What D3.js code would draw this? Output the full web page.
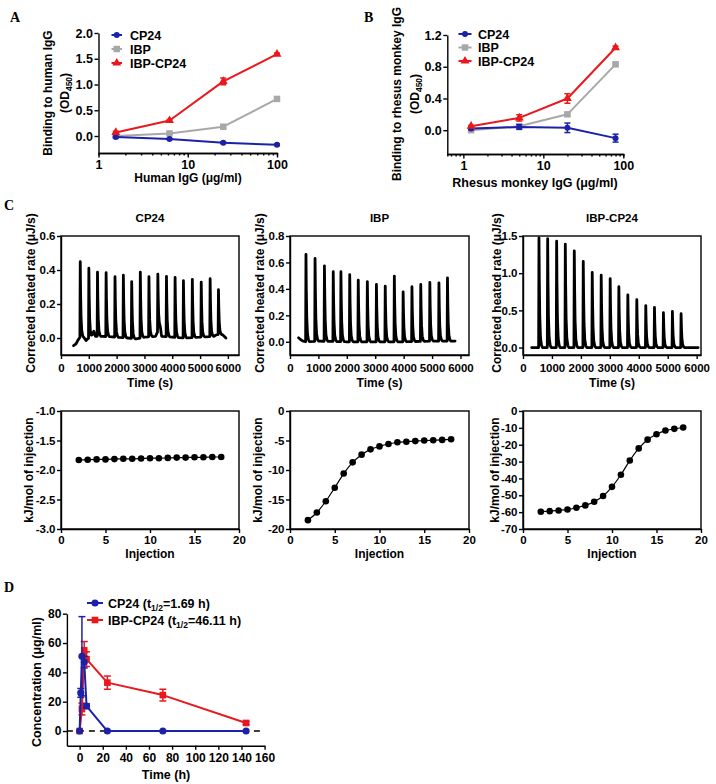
<!DOCTYPE html>
<html><head><meta charset="utf-8">
<script src="https://cdn.jsdelivr.net/npm/d3@7"></script>
<style>
body{margin:0;background:#fff;}
svg{display:block;font-family:"Liberation Sans",Arial,sans-serif;font-weight:bold;}
</style></head><body>
<script>
// ---------------- DATA ----------------
// Panel A: binding to human IgG
const aConc = [1.5625, 6.25, 25, 100];
const aCP24 = [-0.02, -0.06, -0.13, -0.17];
const aErrCP24 = [0.01, 0.01, 0.015, 0.015];
const aIBP = [0.00, 0.05, 0.18, 0.72];
const aErrIBP = [0.01, 0.01, 0.03, 0.02];
const aIBPCP24 = [0.07, 0.30, 1.06, 1.59];
const aErrIBPCP24 = [0.02, 0.02, 0.065, 0.02];
const aXTicks = [1, 10, 100];
const aYTicks = [0, 0.5, 1.0, 1.5, 2.0];
// Panel B: binding to rhesus monkey IgG
const bConc = [1.25, 5, 20, 80];
const bCP24 = [0.02, 0.04, 0.03, -0.10];
const bErrCP24 = [0.015, 0.03, 0.06, 0.05];
const bIBP = [0.00, 0.05, 0.20, 0.83];
const bErrIBP = [0.01, 0.01, 0.02, 0.02];
const bIBPCP24 = [0.05, 0.155, 0.40, 1.04];
const bErrIBPCP24 = [0.01, 0.04, 0.06, 0.02];
const bXTicks = [1, 10, 100];
const bYTicks = [0, 0.4, 0.8, 1.2];
const seriesNames = ["CP24", "IBP", "IBP-CP24"];
// Panel C top: ITC thermograms (injection time s, peak top µJ/s)
const c1PeakTime = [690,1000,1310,1620,1940,2240,2540,2850,3160,3480,3790,4100,4400,4720,5040,5360,5660];
const c1PeakHeight = [0.449,0.410,0.388,0.384,0.361,0.369,0.331,0.388,0.361,0.375,0.363,0.357,0.337,0.345,0.329,0.349,0.284];
const c1Baseline = [[450,-0.045],[540,-0.035],[620,-0.01],[680,0.005],[820,0.005],[900,-0.015],[960,-0.005],[1100,0.01],[1180,0.04],[1240,0.01],[1500,0.01],[2000,0.005],[2400,0.0],[2700,-0.005],[3000,0.005],[3400,0.01],[3560,0.07],[3620,0.01],[4000,0.005],[4500,0.0],[5000,0.005],[5500,0.01],[5600,0.02],[5800,0.02],[5930,0.0]];
const c2PeakTime = [560,880,1210,1520,1790,2100,2400,2720,3040,3350,3670,3980,4290,4600,4920,5240,5540];
const c2PeakHeight = [0.661,0.630,0.573,0.530,0.530,0.507,0.467,0.454,0.434,0.421,0.497,0.378,0.416,0.434,0.449,0.446,0.484];
const c2Baseline = [[300,0.03],[380,0.015],[460,0.005],[560,0.0],[1000,0.005],[2000,0.0],[3000,0.0],[4000,0.0],[5000,0.005],[5810,0.005]];
const c3PeakTime = [550,850,1160,1460,1770,2080,2390,2700,3010,3310,3620,3930,4240,4540,4850,5160,5460];
const c3PeakHeight = [1.473,1.464,1.432,1.390,1.300,1.160,1.010,0.973,0.927,0.818,0.709,0.645,0.564,0.541,0.468,0.486,0.455];
const c3Baseline = [[300,0.0],[6050,0.0]];
const cTimeTicks = [0,1000,2000,3000,4000,5000,6000];
const c1RateTicks = [0, 0.2, 0.4, 0.6];
const c2RateTicks = [0, 0.2, 0.4, 0.6, 0.8];
const c3RateTicks = [0, 0.5, 1.0, 1.5];
// Panel C bottom: integrated heats
const injection = [2,3,4,5,6,7,8,9,10,11,12,13,14,15,16,17,18];
const c1Heat = [-1.83,-1.825,-1.82,-1.82,-1.815,-1.81,-1.81,-1.805,-1.80,-1.80,-1.795,-1.79,-1.79,-1.785,-1.785,-1.78,-1.78];
const c2Heat = [-18.5,-17.2,-15.3,-13.0,-10.6,-8.7,-7.4,-6.5,-6.0,-5.6,-5.3,-5.2,-5.1,-5.0,-4.95,-4.9,-4.8];
const c3Heat = [-59.8,-59.4,-59.0,-58.4,-57.4,-56.0,-53.8,-50.4,-45.0,-37.8,-29.4,-22.2,-17.0,-13.8,-11.6,-10.6,-9.8];
const injTicks = [0,5,10,15,20];
const c1HeatTicks = [-1.0,-1.5,-2.0,-2.5,-3.0];
const c2HeatTicks = [0,-5,-10,-15,-20];
const c3HeatTicks = [0,-10,-20,-30,-40,-50,-60,-70];
// Panel D: pharmacokinetics
const dTimeCP24 = [0, 1, 2, 4, 6, 24, 72, 144];
const dCP24 = [0, 26, 51, 47, 17, 0, 0, 0];
const dErrCP24 = [0, 3, 27, 4, 1.5, 0, 0, 0];
const dTimeIBPCP24 = [0, 2, 4, 6, 24, 72, 144];
const dIBPCP24 = [0, 15, 55, 49, 33, 24.5, 5.5];
const dErrIBPCP24 = [0, 4, 6, 5, 4.5, 4, 1];
const dXTicks = [0,20,40,60,80,100,120,140,160];
const dYTicks = [0,20,40,60,80];

// ---------------- DRAWING ----------------
const BLUE = "#1c22a8", GRAY = "#a8a8a8", RED = "#e8181c";
const FONT = "Liberation Sans, Arial, sans-serif";
const svg = d3.select("body").append("svg").attr("width", 716).attr("height", 784);

function fmtMinus(s){ return String(s).replace("\u2212","-"); }
function styleAxis(g, fs){
  g.attr("font-family", FONT).attr("font-size", fs).attr("font-weight", "bold");
  g.selectAll(".domain").attr("stroke", "#000").attr("stroke-width", 1.4);
  g.selectAll(".tick line").attr("stroke", "#000").attr("stroke-width", 1.4);
  g.selectAll(".tick text").attr("fill", "#000");
}
function text(x, y, s, fs, anchor, opts){
  const t = svg.append("text").attr("x", x).attr("y", y).attr("font-size", fs)
    .attr("text-anchor", anchor || "middle").attr("font-weight", "bold").attr("fill", "#000").text(s);
  if (opts && opts.serif) t.attr("font-family", "Liberation Serif, Times New Roman, serif");
  return t;
}
function vtext(xm, yc, fs){ // rotated label, xm = horizontal middle of glyphs
  return svg.append("text").attr("transform", `translate(${xm + fs*0.36},${yc}) rotate(-90)`)
    .attr("font-size", fs).attr("text-anchor", "middle").attr("font-weight", "bold").attr("fill", "#000");
}
function sym(type, size){ return d3.symbol().type(type).size(size)(); }
function drawSeries(g, xs, ys, errs, xS, yS, color, type, size, lw, capW){
  g.append("path").datum(ys)
    .attr("d", d3.line().x((d,i)=>xS(xs[i])).y(d=>yS(d)))
    .attr("fill","none").attr("stroke",color).attr("stroke-width",lw).attr("stroke-linejoin","round");
  if (errs) ys.forEach((v,i)=>{
    if (!errs[i]) return;
    const X = xS(xs[i]), y1 = yS(v+errs[i]), y2 = yS(v-errs[i]);
    g.append("line").attr("x1",X).attr("x2",X).attr("y1",y1).attr("y2",y2).attr("stroke",color).attr("stroke-width",1.5);
    [y1,y2].forEach(yy=>g.append("line").attr("x1",X-capW).attr("x2",X+capW).attr("y1",yy).attr("y2",yy).attr("stroke",color).attr("stroke-width",1.5));
  });
  ys.forEach((v,i)=>g.append("path").attr("d",sym(type,size)).attr("transform",`translate(${xS(xs[i])},${yS(v)})`).attr("fill",color));
}
function legendRow(x0, x1, ym, color, type, size, label, fs, tx){
  svg.append("line").attr("x1",x0).attr("x2",x1).attr("y1",ym).attr("y2",ym).attr("stroke",color).attr("stroke-width",2);
  svg.append("path").attr("d",sym(type,size)).attr("transform",`translate(${(x0+x1)/2},${ym})`).attr("fill",color);
  return text(tx, ym + fs*0.36, label, fs, "start");
}

// Panel letters
text(10, 22, "A", 14, "start", {serif:true});
text(364, 22, "B", 14, "start", {serif:true});
text(4, 210, "C", 14, "start", {serif:true});
text(4, 592, "D", 14, "start", {serif:true});

// ----- Panel A -----
{
  const x = d3.scaleLog().domain([1,100]).range([98.5,277]);
  const y = d3.scaleLinear().domain([-0.33,2.0]).range([153,33]);
  const g = svg.append("g");
  const minor = [2,3,4,5,6,7,8,9,20,30,40,50,60,70,80,90];
  const gm = g.append("g").attr("transform","translate(0,153)").call(d3.axisBottom(x).tickValues(minor).tickSize(2.5).tickFormat(""));
  styleAxis(gm, 12.5);
  const gx = g.append("g").attr("transform","translate(0,153)").call(d3.axisBottom(x).tickValues(aXTicks).tickSize(4.5).tickSizeOuter(0).tickPadding(3).tickFormat(d3.format("d")));
  styleAxis(gx, 12.5);
  const gy = g.append("g").attr("transform","translate(98.5,0)").call(d3.axisLeft(y).tickValues(aYTicks).tickSize(4).tickSizeOuter(0).tickPadding(1.5).tickFormat(d=>d.toFixed(1)));
  styleAxis(gy, 12.5);
  drawSeries(g, aConc, aIBP, aErrIBP, x, y, GRAY, d3.symbolSquare, 42, 2, 3);
  drawSeries(g, aConc, aCP24, aErrCP24, x, y, BLUE, d3.symbolCircle, 28, 2, 3);
  drawSeries(g, aConc, aIBPCP24, aErrIBPCP24, x, y, RED, d3.symbolTriangle, 34, 2, 3);
  legendRow(111.5, 122, 35, BLUE, d3.symbolCircle, 28, seriesNames[0], 12.5, 130);
  legendRow(111.5, 122, 49, GRAY, d3.symbolSquare, 42, seriesNames[1], 12.5, 130);
  legendRow(111.5, 122, 63, RED, d3.symbolTriangle, 34, seriesNames[2], 12.5, 130);
  text(188, 182, "Human IgG (\u03BCg/ml)", 12, "middle");
  vtext(48, 93, 12).text("Binding to human IgG");
  const t2 = vtext(65, 93, 12);
  t2.append("tspan").text("(OD");
  t2.append("tspan").attr("font-size", 8.5).attr("dy", 3).text("450");
  t2.append("tspan").attr("dy", -3).text(")");
}

// ----- Panel B -----
{
  const x = d3.scaleLog().domain([0.63,100]).range([447.3,623.3]);
  const y = d3.scaleLinear().domain([-0.3,1.2]).range([154,35]);
  const g = svg.append("g");
  const minor = [0.7,0.8,0.9,2,3,4,5,6,7,8,9,20,30,40,50,60,70,80,90];
  const gm = g.append("g").attr("transform","translate(0,154)").call(d3.axisBottom(x).tickValues(minor).tickSize(2.5).tickFormat(""));
  styleAxis(gm, 12.5);
  const gx = g.append("g").attr("transform","translate(0,154)").call(d3.axisBottom(x).tickValues(bXTicks).tickSize(4.5).tickSizeOuter(0).tickPadding(3).tickFormat(d3.format("d")));
  styleAxis(gx, 12.5);
  const gy = g.append("g").attr("transform","translate(447.3,0)").call(d3.axisLeft(y).tickValues(bYTicks).tickSize(4).tickSizeOuter(0).tickPadding(1.5).tickFormat(d=>d.toFixed(1)));
  styleAxis(gy, 12.5);
  drawSeries(g, bConc, bIBP, bErrIBP, x, y, GRAY, d3.symbolSquare, 42, 2, 3);
  drawSeries(g, bConc, bCP24, bErrCP24, x, y, BLUE, d3.symbolCircle, 28, 2, 3);
  drawSeries(g, bConc, bIBPCP24, bErrIBPCP24, x, y, RED, d3.symbolTriangle, 34, 2, 3);
  legendRow(458.5, 471.5, 34, BLUE, d3.symbolCircle, 28, seriesNames[0], 12.5, 478);
  legendRow(458.5, 471.5, 47.5, GRAY, d3.symbolSquare, 42, seriesNames[1], 12.5, 478);
  legendRow(458.5, 471.5, 61, RED, d3.symbolTriangle, 34, seriesNames[2], 12.5, 478);
  text(535, 187, "Rhesus monkey IgG (\u03BCg/ml)", 12.5, "middle");
  vtext(397, 94, 12).text("Binding to rhesus monkey IgG");
  const t2 = vtext(415, 94, 12);
  t2.append("tspan").text("(OD");
  t2.append("tspan").attr("font-size", 8.5).attr("dy", 3).text("450");
  t2.append("tspan").attr("dy", -3).text(")");
}

// ----- Panel C -----
const cCols = [
  {x0:61, x1:239, tmax:6400, title:"CP24", peaksT:c1PeakTime, peaksH:c1PeakHeight, base:c1Baseline, rate:[-0.1,0.6], rTicks:c1RateTicks, rFmt:d=>d.toFixed(1), heat:c1Heat, hDom:[-3,-1], hTicks:c1HeatTicks, hFmt:d=>fmtMinus(d.toFixed(1)), yl:31},
  {x0:290, x1:469, tmax:6300, title:"IBP", peaksT:c2PeakTime, peaksH:c2PeakHeight, base:c2Baseline, rate:[-0.1,0.8], rTicks:c2RateTicks, rFmt:d=>d.toFixed(1), heat:c2Heat, hDom:[-20,0], hTicks:c2HeatTicks, hFmt:d=>fmtMinus(d3.format("d")(d)), yl:260},
  {x0:523, x1:701, tmax:6150, title:"IBP-CP24", peaksT:c3PeakTime, peaksH:c3PeakHeight, base:c3Baseline, rate:[-0.1,1.5], rTicks:c3RateTicks, rFmt:d=>d.toFixed(1), heat:c3Heat, hDom:[-70,0], hTicks:c3HeatTicks, hFmt:d=>fmtMinus(d3.format("d")(d)), yl:497}
];
const TOP0 = 236, TOP1 = 355, BOT0 = 411, BOT1 = 529;
// spike glyph: offsets in s and fraction of peak amplitude
const spikeShape = [[-10,0],[2,1],[14,0.6],[30,0.28],[55,0.09],[90,0.02],[125,0]];
cCols.forEach(c=>{
  // top thermogram
  const x = d3.scaleLinear().domain([0,c.tmax]).range([c.x0,c.x1]);
  const y = d3.scaleLinear().domain(c.rate).range([TOP1,TOP0]);
  const g = svg.append("g");
  g.append("rect").attr("x",c.x0).attr("y",TOP0).attr("width",c.x1-c.x0).attr("height",TOP1-TOP0).attr("fill","none").attr("stroke","#000").attr("stroke-width",1.4);
  const gx = g.append("g").attr("transform",`translate(0,${TOP1})`).call(d3.axisBottom(x).tickValues(cTimeTicks).tickSize(4).tickSizeOuter(0).tickPadding(4.5).tickFormat(d3.format("d")));
  styleAxis(gx, 11.5);
  const gy = g.append("g").attr("transform",`translate(${c.x0},0)`).call(d3.axisLeft(y).tickValues(c.rTicks).tickSize(4).tickSizeOuter(0).tickPadding(1.5).tickFormat(c.rFmt));
  styleAxis(gy, 11.5);
  const bAt = d3.scaleLinear().domain(c.base.map(d=>d[0])).range(c.base.map(d=>d[1])).clamp(true);
  let pts = c.base.filter(b=>!c.peaksT.some(t=>b[0]>=t-10 && b[0]<=t+125)).map(b=>[b[0],b[1]]);
  c.peaksT.forEach((t,i)=>{
    const amp = c.peaksH[i] - bAt(t);
    spikeShape.forEach(s=>{ const tt=t+s[0]; pts.push([tt, bAt(tt) + s[1]*amp]); });
  });
  pts.sort((a,b)=>a[0]-b[0]);
  g.append("path").datum(pts).attr("d", d3.line().x(d=>x(d[0])).y(d=>y(d[1])))
    .attr("fill","none").attr("stroke","#000").attr("stroke-width",2.8).attr("stroke-linejoin","round").attr("stroke-linecap","round");
  text((c.x0+c.x1)/2, 222, c.title, 11.5, "middle");
  text((c.x0+c.x1)/2, 387, "Time (s)", 12, "middle");
  vtext(c.yl, 293, 12).text("Corrected heated rate (\u03BCJ/s)");

  // bottom integrated heats
  const xb = d3.scaleLinear().domain([0,20]).range([c.x0,c.x1]);
  const yb = d3.scaleLinear().domain(c.hDom).range([BOT1,BOT0]);
  const gb = svg.append("g");
  gb.append("rect").attr("x",c.x0).attr("y",BOT0).attr("width",c.x1-c.x0).attr("height",BOT1-BOT0).attr("fill","none").attr("stroke","#000").attr("stroke-width",1.4);
  const gbx = gb.append("g").attr("transform",`translate(0,${BOT1})`).call(d3.axisBottom(xb).tickValues(injTicks).tickSize(4).tickSizeOuter(0).tickPadding(3).tickFormat(d3.format("d")));
  styleAxis(gbx, 11.5);
  const gby = gb.append("g").attr("transform",`translate(${c.x0},0)`).call(d3.axisLeft(yb).tickValues(c.hTicks).tickSize(4).tickSizeOuter(0).tickPadding(1.5).tickFormat(c.hFmt));
  styleAxis(gby, 11.5);
  gb.append("path").datum(c.heat).attr("d", d3.line().x((d,i)=>xb(injection[i])).y(d=>yb(d)).curve(d3.curveMonotoneX))
    .attr("fill","none").attr("stroke","#000").attr("stroke-width",1.2);
  c.heat.forEach((v,i)=>gb.append("circle").attr("cx",xb(injection[i])).attr("cy",yb(v)).attr("r",3.3).attr("fill","#000"));
  text((c.x0+c.x1)/2, 558, "Injection", 12, "middle");
  vtext(c.yl - 2, 470, 12).text("kJ/mol of injection");
});

// ----- Panel D -----
{
  const x = d3.scaleLinear().domain([-11,160]).range([66.9,264.6]);
  const y = d3.scaleLinear().domain([-10,80]).range([745.7,613.7]);
  const g = svg.append("g");
  const gx = g.append("g").attr("transform","translate(0,745.7)").call(d3.axisBottom(x).tickValues(dXTicks).tickSize(4).tickSizeOuter(0).tickPadding(4).tickFormat(d3.format("d")));
  styleAxis(gx, 12);
  const gy = g.append("g").attr("transform","translate(66.9,0)").call(d3.axisLeft(y).tickValues(dYTicks).tickSize(4).tickSizeOuter(0).tickPadding(1.5).tickFormat(d3.format("d")));
  styleAxis(gy, 12);
  g.append("line").attr("x1",x(-11)).attr("x2",x(160)).attr("y1",y(0)).attr("y2",y(0))
    .attr("stroke","#000").attr("stroke-width",1.6).attr("stroke-dasharray","6,5");
  drawSeries(g, dTimeIBPCP24, dIBPCP24, dErrIBPCP24, x, y, RED, d3.symbolSquare, 44, 2, 3.5);
  drawSeries(g, dTimeCP24, dCP24, dErrCP24, x, y, BLUE, d3.symbolCircle, 40, 2, 3.5);
  const l1 = legendRow(87, 103, 603, BLUE, d3.symbolCircle, 40, "", 12.5, 108);
  l1.text(null);
  l1.append("tspan").text("CP24 (t");
  l1.append("tspan").attr("font-size", 8.5).attr("dy", 3).text("1/2");
  l1.append("tspan").attr("dy", -3).text("=1.69 h)");
  const l2 = legendRow(87, 103, 620, RED, d3.symbolSquare, 44, "", 12.5, 108);
  l2.text(null);
  l2.append("tspan").text("IBP-CP24 (t");
  l2.append("tspan").attr("font-size", 8.5).attr("dy", 3).text("1/2");
  l2.append("tspan").attr("dy", -3).text("=46.11 h)");
  text(166, 779, "Time (h)", 12.5, "middle");
  vtext(36, 682, 12.5).text("Concentration (\u03BCg/ml)");
}
</script></body></html>
